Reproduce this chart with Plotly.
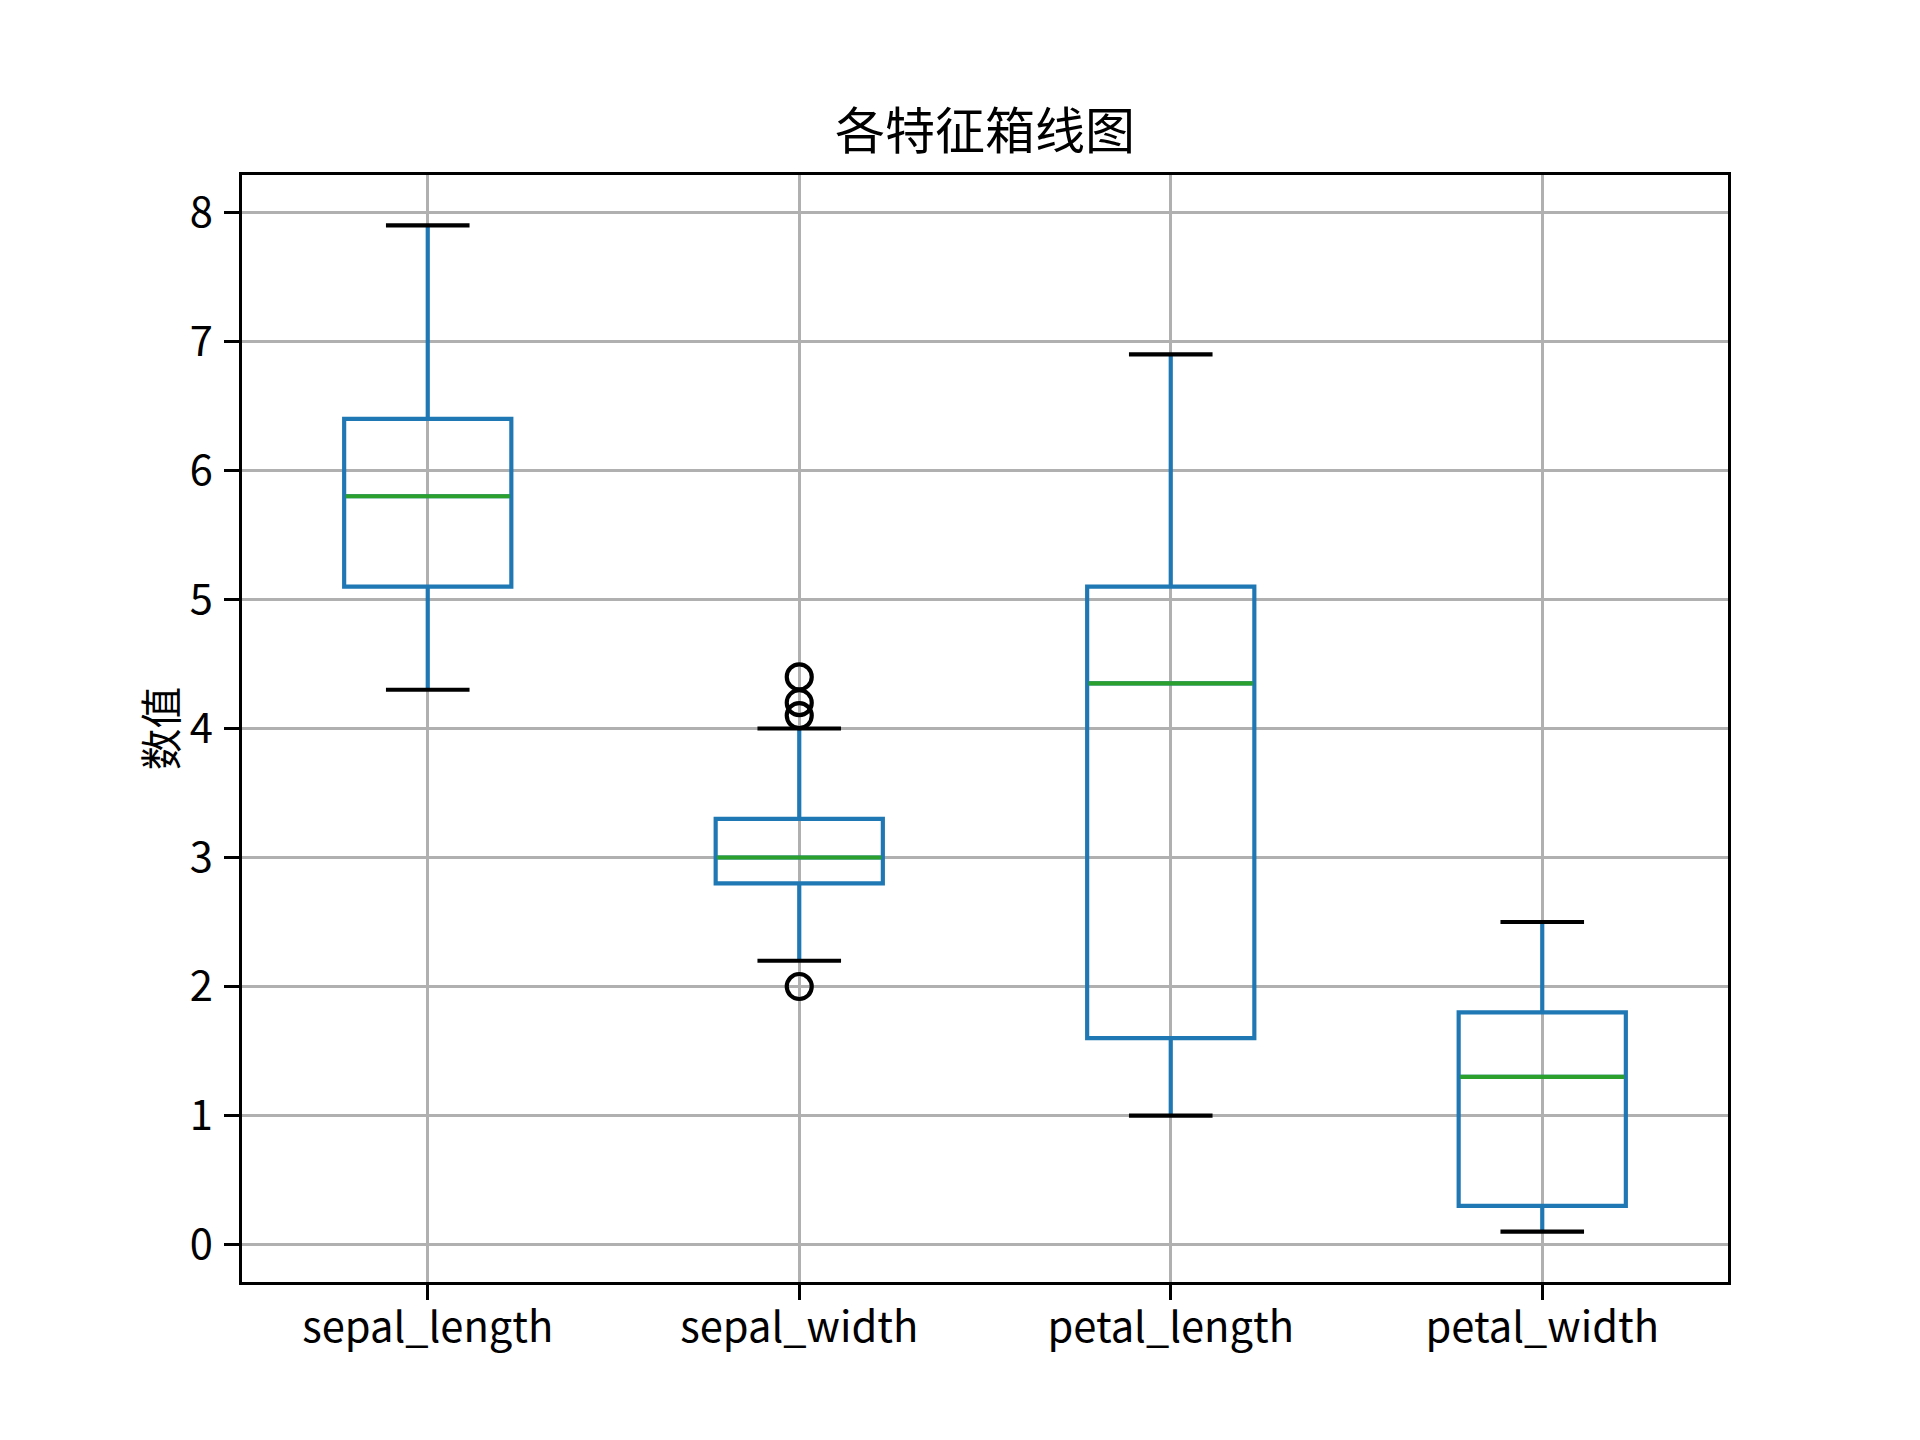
import plotly.graph_objects as go

categories = ["sepal_length", "sepal_width", "petal_length", "petal_width"]
lower_whisker = [4.3, 2.2, 1.0, 0.1]
q1 = [5.1, 2.8, 1.6, 0.3]
median = [5.8, 3.0, 4.35, 1.3]
q3 = [6.4, 3.3, 5.1, 1.8]
upper_whisker = [7.9, 4.0, 6.9, 2.5]
outlier_feature = ["sepal_width", "sepal_width", "sepal_width", "sepal_width"]
outlier_values = [4.4, 4.1, 4.2, 2.0]
y_ticks = [0, 1, 2, 3, 4, 5, 6, 7, 8]

title_text = "各特征箱线图"
ylabel_text = "数值"

BLUE = "#1f77b4"
GREEN = "#2ca02c"
GRID = "#b0b0b0"
FONT = "Noto Sans CJK SC"
PX = 300 / 72.0  # pixels per point

positions = [i + 1 for i in range(len(categories))]
box_w = 0.45
cap_w = box_w / 2

fig = go.Figure()

fig.add_trace(go.Box(
    x=positions, q1=q1, median=median, q3=q3,
    lowerfence=lower_whisker, upperfence=upper_whisker,
    width=box_w, whiskerwidth=0,
    line=dict(color=BLUE, width=1.0 * PX),
    fillcolor="rgba(0,0,0,0)",
    showlegend=False, hoverinfo="skip",
))

# caps
cx, cy = [], []
for p, lo, hi in zip(positions, lower_whisker, upper_whisker):
    cx += [p - cap_w / 2, p + cap_w / 2, None, p - cap_w / 2, p + cap_w / 2, None]
    cy += [lo, lo, None, hi, hi, None]
fig.add_trace(go.Scatter(x=cx, y=cy, mode="lines",
                         line=dict(color="black", width=1.0 * PX),
                         showlegend=False, hoverinfo="skip"))

# medians
mx, my = [], []
for p, m in zip(positions, median):
    mx += [p - box_w / 2 + 0.004, p + box_w / 2 - 0.004, None]
    my += [m, m, None]
fig.add_trace(go.Scatter(x=mx, y=my, mode="lines",
                         line=dict(color=GREEN, width=1.0 * PX),
                         showlegend=False, hoverinfo="skip"))

# outliers
ox = [positions[categories.index(c)] for c in outlier_feature]
fig.add_trace(go.Scatter(x=ox, y=outlier_values, mode="markers",
                         marker=dict(symbol="circle-open", size=6 * PX,
                                     color="black", line=dict(width=1.0 * PX, color="black")),
                         showlegend=False, hoverinfo="skip"))

W, H = 1920, 1440
OFF = 6  # page body margin compensation
ml, mr = 0.125 * W - OFF, (1 - 0.9) * W + OFF + 2
mt, mb = (1 - 0.88) * H - OFF, 0.11 * H + OFF + 2

tick_font = dict(family=FONT, size=10 * PX, color="black")

fig.update_layout(
    width=W, height=H,
    margin=dict(l=ml, r=mr, t=mt, b=mb, pad=0),
    paper_bgcolor="white", plot_bgcolor="white",
    font=dict(family=FONT, color="black"),
    xaxis=dict(
        range=[0.5, 4.5], tickmode="array", tickvals=positions, ticktext=categories,
        showgrid=True, gridcolor=GRID, gridwidth=0.8 * PX,
        showline=True, linecolor="black", linewidth=0.8 * PX, mirror=True,
        ticks="outside", ticklen=3.5 * PX, tickwidth=0.8 * PX, tickcolor="black",
        tickfont=tick_font, zeroline=False, ticklabelstandoff=-8,
    ),
    yaxis=dict(
        range=[-0.29, 8.29], tickmode="array", tickvals=y_ticks,
        showgrid=True, gridcolor=GRID, gridwidth=0.8 * PX,
        showline=True, linecolor="black", linewidth=0.8 * PX, mirror=True,
        ticks="outside", ticklen=3.5 * PX, tickwidth=0.8 * PX, tickcolor="black",
        tickfont=tick_font, zeroline=False, ticklabelstandoff=3,
        title=dict(text=ylabel_text, font=dict(family=FONT, size=10 * PX, color="black"),
                   standoff=0),
    ),
    annotations=[dict(
        text=title_text, xref="paper", yref="paper", x=0.5, y=1,
        xanchor="center", yanchor="bottom", yshift=10, showarrow=False,
        font=dict(family=FONT, size=12 * PX, color="black"),
    )],
)

fig.write_html("out.html")
